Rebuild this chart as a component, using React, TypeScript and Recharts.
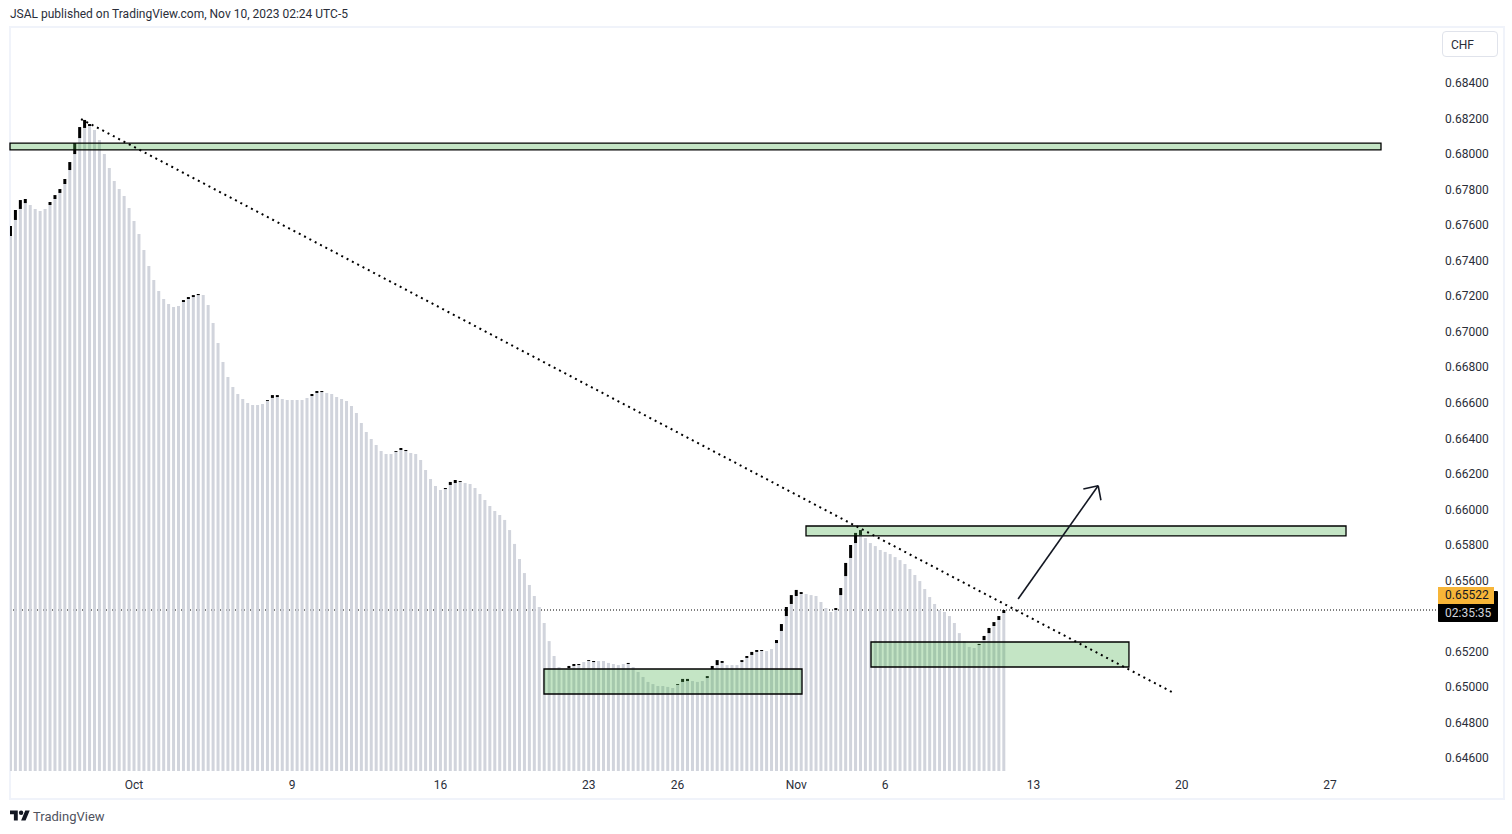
import { ComposedChart, Bar, XAxis, YAxis, ReferenceArea, ReferenceLine } from 'recharts';

const _ = null;

// top of the grey column of every session
const greyTop = [
  0.67539, 0.67629, 0.67691, 0.67724, 0.67713, 0.67691, 0.67679, 0.67691, 0.67713, 0.67747,
  0.67781, 0.67831, 0.6791, 0.68, 0.6809, 0.68147, 0.68158, 0.68135, 0.68079, 0.68,
  0.67921, 0.67848, 0.67803, 0.67764, 0.67696, 0.67623, 0.6755, 0.6746, 0.6737, 0.67291,
  0.67229, 0.67184, 0.67156, 0.67139, 0.67144, 0.67167, 0.67184, 0.67195, 0.67206, 0.67206,
  0.6715, 0.67049, 0.66936, 0.66829, 0.66745, 0.66689, 0.66649, 0.66621, 0.66598, 0.66587,
  0.66587, 0.66593, 0.6661, 0.66627, 0.66632, 0.66621, 0.66615, 0.66615, 0.66615, 0.66615,
  0.66627, 0.66638, 0.66655, 0.6666, 0.66655, 0.66649, 0.66632, 0.66621, 0.6661, 0.66582,
  0.66542, 0.66486, 0.66435, 0.66396, 0.66362, 0.66328, 0.66311, 0.66311, 0.66323, 0.66334,
  0.66328, 0.66317, 0.66311, 0.66278, 0.66221, 0.66171, 0.66131, 0.66109, 0.66114, 0.66137,
  0.66148, 0.66154, 0.66148, 0.66142, 0.6612, 0.66086, 0.66052, 0.66019, 0.6599, 0.65968,
  0.6594, 0.65883, 0.65805, 0.6572, 0.65641, 0.65574, 0.65512, 0.6545, 0.6536, 0.65258,
  0.65174, 0.65112, 0.65095, 0.65106, 0.65118, 0.65123, 0.6514, 0.65146, 0.6514, 0.65146,
  0.65146, 0.65135, 0.65129, 0.65123, 0.65129, 0.65129, 0.65112, 0.65084, 0.65056, 0.65028,
  0.65016, 0.65005, 0.65005, 0.65, 0.64994, 0.65011, 0.65028, 0.65033, 0.65033, 0.65028,
  0.65033, 0.6505, 0.65101, 0.65123, 0.65135, 0.65123, 0.65123, 0.65123, 0.6514, 0.65163,
  0.6518, 0.65197, 0.65202, 0.65202, 0.65213, 0.65247, 0.65315, 0.65399, 0.65467, 0.65512,
  0.65523, 0.65523, 0.65517, 0.65512, 0.65478, 0.65444, 0.65422, 0.65433, 0.65517, 0.65624,
  0.65726, 0.6581, 0.65855, 0.65838, 0.6581, 0.65793, 0.65771, 0.6576, 0.65748, 0.65731,
  0.65714, 0.65692, 0.65664, 0.6563, 0.65596, 0.65551, 0.65506, 0.65467, 0.65433, 0.65422,
  0.65399, 0.6536, 0.65303, 0.65258, 0.65225, 0.65219, 0.65236, 0.65264, 0.65303, 0.65343,
  0.65377, 0.65416,
];

// top of the black body, only on the sessions that closed up
const blackTop = [
  0.67595, 0.67685, 0.67741, 0.67747, _, _, _, _, 0.6773, 0.67769,
  0.67803, 0.6786, 0.67955, 0.68062, 0.68152, 0.68192, 0.68169, _, _, _,
  _, _, _, _, _, _, _, _, _, _,
  _, _, _, _, _, 0.67178, 0.67195, 0.67206, 0.67212, _,
  _, _, _, _, _, _, _, _, _, _,
  _, _, 0.66615, 0.66643, 0.66643, _, _, _, _, _,
  _, 0.66649, 0.66666, 0.66666, _, _, _, _, _, _,
  _, _, _, _, _, _, _, _, 0.66328, 0.66345,
  0.66334, _, _, _, _, _, _, _, 0.6612, 0.66154,
  0.66165, 0.66159, _, _, _, _, _, _, _, _,
  _, _, _, _, _, _, _, _, _, _,
  _, _, _, 0.65118, 0.65129, 0.65129, _, 0.65151, 0.65146, _,
  _, _, _, _, _, 0.65135, _, _, _, _,
  _, _, _, _, _, 0.65016, 0.65045, 0.65045, _, _,
  _, 0.65061, 0.65118, 0.65151, 0.65146, _, _, _, 0.65151, 0.65174,
  0.65197, 0.65208, 0.65208, _, _, 0.65264, 0.65354, 0.6545, 0.65517, 0.65546,
  0.65534, _, _, _, _, _, _, 0.65444, 0.65557, 0.65698,
  0.65799, 0.65867, 0.65883, _, _, _, _, _, _, _,
  _, _, _, _, _, _, _, _, _, _,
  _, _, _, _, _, _, 0.65242, 0.65287, 0.65332, 0.65365,
  0.65399, 0.65433,
];

// 0.654 sits behind the price tags, so it is not labelled
const priceTicks = [
  0.684, 0.682, 0.68, 0.678, 0.676, 0.674, 0.672, 0.67, 0.668, 0.666,
  0.664, 0.662, 0.66, 0.658, 0.656, 0.652, 0.65, 0.648, 0.646,
];
const dateTicks = [25, 57, 87, 117, 135, 159, 177, 207, 237, 267];
const dateLabels = ['Oct', '9', '16', '23', '26', 'Nov', '6', '13', '20', '27'];

const lastPrice = 0.65433;
const zones = [
  { x1: -0.09, x2: 277.33, top: 0.68062, bottom: 0.68023 },
  { x1: 160.98, x2: 270.25, top: 0.65906, bottom: 0.6585 },
  { x1: 107.96, x2: 160.17, top: 0.65101, bottom: 0.6496 },
  { x1: 174.13, x2: 226.33, top: 0.65253, bottom: 0.65112 },
];
const trendLine = [{ x: 14.28, y: 0.68197 }, { x: 235.3, y: 0.64967 }];
const arrowShaft = [{ x: 203.9, y: 0.65495 }, { x: 220.1, y: 0.66133 }];
const arrowWingA = [{ x: 217.1, y: 0.66114 }, { x: 220.1, y: 0.66133 }];
const arrowWingB = [{ x: 220.66, y: 0.66051 }, { x: 220.1, y: 0.66133 }];

const rows = greyTop.map((g, i) => ({
  i,
  grey: g,
  black: blackTop[i] == null ? null : blackTop[i] - g,
}));

const font = 'Roboto, sans-serif';
const textColor = '#2a2e39';

export default function App() {
  return (
    <div style={{ position: 'absolute', left: 0, top: 0, width: 1512, height: 834, background: '#fff', overflow: 'hidden', fontFamily: font }}>
      <div style={{ position: 'absolute', left: 10, top: 7, fontSize: 12, lineHeight: '14px', color: textColor, whiteSpace: 'nowrap' }}>
        JSAL published on TradingView.com, Nov 10, 2023 02:24 UTC-5
      </div>
      {/* chart frame */}
      <div style={{ position: 'absolute', left: 9, top: 26, width: 1492, height: 770, border: '2px solid #f0f3fa' }} />

      <div style={{ position: 'absolute', left: 0, top: 0 }}>
        <ComposedChart
          width={1512}
          height={834}
          data={rows}
          barSize={3}
          margin={{ top: 28, right: 16, bottom: 36, left: 10 }}
        >
          <XAxis
            dataKey="i"
            type="number"
            scale="linear"
            domain={[-0.09, 288.46]}
            allowDataOverflow
            ticks={dateTicks}
            interval={0}
            height={27}
            axisLine={false}
            tickLine={false}
            tickFormatter={(v) => dateLabels[dateTicks.indexOf(v)]}
            tick={{ fontSize: 12, fill: textColor, fontFamily: font, dy: 1 }}
          />
          <YAxis
            orientation="right"
            width={60}
            domain={[0.645266, 0.687097]}
            allowDataOverflow
            ticks={priceTicks}
            interval={0}
            axisLine={false}
            tickLine={false}
            tickFormatter={(v) => v.toFixed(5)}
            tick={{ fontSize: 12, fill: textColor, fontFamily: font, dx: 1 }}
          />
          <ReferenceLine y={lastPrice} stroke="#000" strokeWidth={1} strokeDasharray="1 2" zIndex={100} />
          <Bar dataKey="grey" stackId="a" fill="#d1d4dc" isAnimationActive={false} />
          <Bar dataKey="black" stackId="a" fill="#000" isAnimationActive={false} />
          {zones.map((z, k) => (
            <ReferenceArea
              key={k}
              x1={z.x1}
              x2={z.x2}
              y1={z.bottom}
              y2={z.top}
              fill="#4caf50"
              fillOpacity={0.33}
              stroke="#000"
              strokeOpacity={1}
              strokeWidth={1.3}
              ifOverflow="visible"
              zIndex={450}
            />
          ))}
          <ReferenceLine segment={trendLine} stroke="#000" strokeWidth={2} strokeDasharray="2 4" ifOverflow="visible" zIndex={500} />
          <ReferenceLine segment={arrowShaft} stroke="#131722" strokeWidth={1.6} ifOverflow="visible" zIndex={500} />
          <ReferenceLine segment={arrowWingA} stroke="#131722" strokeWidth={1.6} ifOverflow="visible" zIndex={500} />
          <ReferenceLine segment={arrowWingB} stroke="#131722" strokeWidth={1.6} ifOverflow="visible" zIndex={500} />
        </ComposedChart>
      </div>

      {/* currency button and last price tags */}
      <div style={{ position: 'absolute', left: 1442, top: 31, width: 54, height: 24, border: '1px solid #e0e3eb', borderRadius: 4, fontSize: 12, lineHeight: '26px', color: textColor, textIndent: 8, background: '#fff' }}>
        CHF
      </div>
      <div style={{ position: 'absolute', left: 1438, top: 591, width: 60, height: 31, background: '#000', borderRadius: 1 }} />
      <div style={{ position: 'absolute', left: 1438, top: 587, width: 56, height: 17, background: '#f7b538', fontSize: 12, lineHeight: '17px', color: '#131722', textIndent: 7 }}>
        0.65522
      </div>
      <div style={{ position: 'absolute', left: 1438, top: 605, width: 60, height: 17, fontSize: 12, lineHeight: '17px', color: '#d1d4dc', textIndent: 7 }}>
        02:35:35
      </div>

      {/* footer */}
      <svg style={{ position: 'absolute', left: 10, top: 808 }} width={20} height={16} viewBox="0 0 36 28">
        <path d="M14 22H7V11H0V4h14v18zM28 22h-8l7.5-18h8L28 22z" fill="#131722" />
        <circle cx={20} cy={8} r={4} fill="#131722" />
      </svg>
      <div style={{ position: 'absolute', left: 33, top: 809, fontSize: 13, lineHeight: '16px', color: '#50535e' }}>TradingView</div>
    </div>
  );
}
